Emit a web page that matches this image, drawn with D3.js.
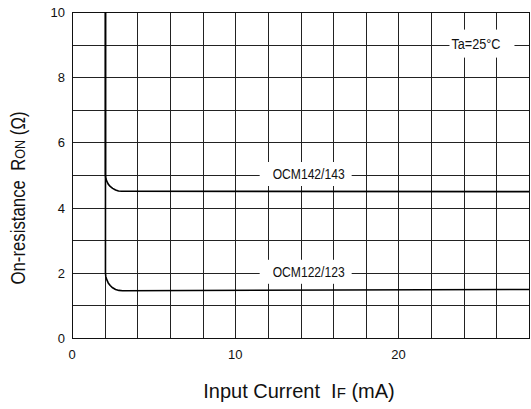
<!DOCTYPE html>
<html>
<head>
<meta charset="utf-8">
<script src="https://cdn.jsdelivr.net/npm/d3@7"></script>
<style>
  body { margin: 0; background: #fff; }
  text { font-family: "Liberation Sans", Arial, sans-serif; fill: #111; white-space: pre; }
</style>
</head>
<body>
<div id="chart"></div>
<script>
const margin = { top: 12, right: 2, bottom: 71, left: 72 };
const W = 531, H = 409;
const width = W - margin.left - margin.right;
const height = H - margin.top - margin.bottom;

// axis ticks
const xTicks = [0, 10, 20];
const yTicks = [0, 2, 4, 6, 8, 10];
const xGrid = d3.range(0, 29, 2);
const yGrid = d3.range(0, 11, 1);

// curves: [IF (mA), Ron (ohm)]
const ocm142 = [[2.05, 10], [2.05, 5.0], [2.07, 4.9], [2.13, 4.81], [2.22, 4.72], [2.34, 4.65],
  [2.49, 4.59], [2.67, 4.54], [2.85, 4.51], [3.05, 4.5], [28, 4.49]];
const ocm122 = [[2.05, 10], [2.05, 2.0], [2.07, 1.89], [2.13, 1.79], [2.22, 1.69], [2.34, 1.61],
  [2.49, 1.54], [2.67, 1.49], [2.88, 1.46], [3.1, 1.45], [28, 1.49]];

// labels: text position (IF, Ron) and white box width/height
const curveLabels = [
  { text: "OCM142/143", x: 14.5, y: 5, w: 92, h: 24, len: 72 },
  { text: "OCM122/123", x: 14.5, y: 2, w: 92, h: 24, len: 72 },
  { text: "Ta=25°C", x: 24.75, y: 9, w: 65, h: 28, len: 49 }
];

const svg = d3.select("#chart").append("svg")
  .attr("width", W).attr("height", H)
  .append("g")
  .attr("transform", `translate(${margin.left},${margin.top})`);

const x = d3.scaleLinear().domain([0, 28]).range([0, width]);
const y = d3.scaleLinear().domain([0, 10]).range([height, 0]);

// grid
svg.append("g").selectAll("line")
  .data(xGrid)
  .join("line")
  .attr("x1", d => Math.round(x(d)) + 0.5).attr("x2", d => Math.round(x(d)) + 0.5)
  .attr("y1", 0).attr("y2", height)
  .attr("stroke", "#222").attr("stroke-width", 1);

svg.append("g").selectAll("line")
  .data(yGrid)
  .join("line")
  .attr("y1", d => Math.round(y(d)) + 0.5).attr("y2", d => Math.round(y(d)) + 0.5)
  .attr("x1", 0).attr("x2", width)
  .attr("stroke", "#222").attr("stroke-width", 1);

// frame
svg.append("rect")
  .attr("x", 0.5).attr("y", 0.5)
  .attr("width", Math.round(width)).attr("height", Math.round(height))
  .attr("fill", "none").attr("stroke", "#111");

// label boxes (break the grid)
const labelX = d => d.text.startsWith("Ta") ? x(d.x) + 6 : x(d.x) - 3;
svg.append("g").selectAll("rect")
  .data(curveLabels)
  .join("rect")
  .attr("x", d => labelX(d) - d.w / 2)
  .attr("y", d => y(d.y) - d.h / 2 - 1)
  .attr("width", d => d.w)
  .attr("height", d => d.h)
  .attr("fill", "#fff");

svg.append("g").selectAll("text")
  .data(curveLabels)
  .join("text")
  .attr("x", d => x(d.x))
  .attr("y", d => y(d.y) + 4)
  .attr("text-anchor", "middle")
  .attr("textLength", d => d.len)
  .attr("lengthAdjust", "spacingAndGlyphs")
  .style("font-size", "14px")
  .text(d => d.text);

// curves
const line = d3.line()
  .x(d => x(d[0]))
  .y(d => y(d[1]));

svg.selectAll(".curve")
  .data([ocm142, ocm122])
  .join("path")
  .attr("class", "curve")
  .attr("fill", "none")
  .attr("stroke", "#000")
  .attr("stroke-width", 1.6)
  .attr("stroke-linejoin", "round")
  .attr("d", line);

// tick labels
svg.append("g").selectAll("text")
  .data(xTicks)
  .join("text")
  .attr("x", d => x(d))
  .attr("y", height + 21)
  .attr("text-anchor", "middle")
  .style("font-size", "13px")
  .text(d => d);

svg.append("g").selectAll("text")
  .data(yTicks)
  .join("text")
  .attr("x", -7)
  .attr("y", d => y(d) + 5)
  .attr("text-anchor", "end")
  .style("font-size", "13px")
  .text(d => d);

// axis titles
const xt = svg.append("text")
  .attr("x", 299 - margin.left)
  .attr("y", 398 - margin.top)
  .attr("text-anchor", "middle")
  .style("font-size", "20px");
xt.append("tspan").text("Input Current  I");
xt.append("tspan").style("font-size", "15px").text("F");
xt.append("tspan").text(" (mA)");

const yt = svg.append("text")
  .attr("transform", `translate(${25 - margin.left},${198 - margin.top}) rotate(-90)`)
  .attr("text-anchor", "middle")
  .attr("textLength", 173)
  .attr("lengthAdjust", "spacingAndGlyphs")
  .style("font-size", "20px");
yt.append("tspan").text("On-resistance  R");
yt.append("tspan").style("font-size", "15px").text("ON");
yt.append("tspan").text(" (Ω)");
</script>
</body>
</html>
